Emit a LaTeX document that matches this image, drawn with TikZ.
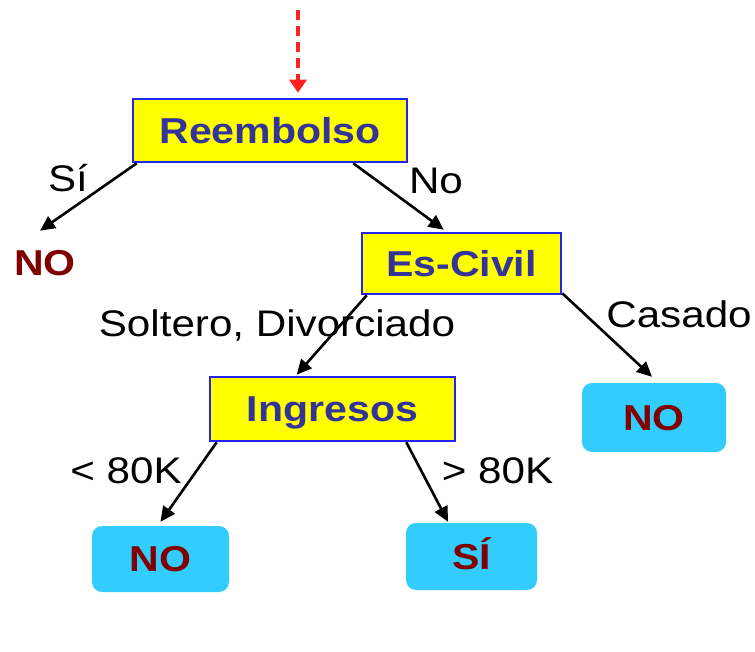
\documentclass[tikz,border=0pt]{standalone}
\usepackage{fontspec}
\setmainfont{Liberation Sans}
\usetikzlibrary{arrows.meta}
\definecolor{boxyellow}{HTML}{FFFF00}
\definecolor{boxblue}{HTML}{2424F0}
\definecolor{indigo}{HTML}{333399}
\definecolor{leafcyan}{HTML}{33CCFF}
\definecolor{darkred}{HTML}{800000}
\definecolor{arrowred}{HTML}{FF2020}
\newcommand{\hs}[1]{\scalebox{1.14}[1]{#1}}
\begin{document}
\begin{tikzpicture}[x=1pt,y=-1pt,
  decbox/.style={draw=boxblue, line width=2.6pt, fill=boxyellow, inner sep=0pt,
    text=indigo, font=\fontsize{36}{40}\selectfont\bfseries,
    text height=34pt, text depth=8.2pt},
  leafbox/.style={fill=leafcyan, rounded corners=10pt, inner sep=0pt,
    text=darkred, font=\fontsize{36}{40}\selectfont\bfseries,
    text height=34pt, text depth=8.2pt},
  leaftext/.style={inner sep=0pt, text=darkred, font=\fontsize{36}{40}\selectfont\bfseries},
  edgelabel/.style={inner sep=0pt, anchor=base, font=\fontsize{37}{40}\selectfont},
  branch/.style={line width=2.6pt, -{Triangle[length=15pt,width=14pt]}},
  entry/.style={draw=arrowred, line width=3.5pt, dash pattern=on 10pt off 6pt,
    -{Triangle[length=13pt,width=17pt]}, shorten >=5pt}
]
\useasboundingbox (0,0) rectangle (755,652);

% decision nodes
\node[decbox, minimum width=274pt, minimum height=63pt] (reem) at (270,130.5) {\hs{Reembolso}};
\node[decbox, minimum width=199pt, minimum height=61pt] (es) at (461.5,263.5) {\hs{Es-Civil}};
\node[decbox, minimum width=245pt, minimum height=64pt] (ing) at (332.5,409) {\hs{Ingresos}};

% leaves
\node[leaftext, anchor=base] (noA) at (45,276) {\hs{NO}};
\node[leafbox, minimum width=144pt, minimum height=69pt] (noR) at (654,417.5) {\hs{NO}};
\node[leafbox, minimum width=137pt, minimum height=66pt] (noL) at (160.5,559) {\hs{NO}};
\node[leafbox, minimum width=131pt, minimum height=67pt] (si) at (471.5,556.5) {\hs{SÍ}};

% entry arrow
\coordinate (start) at (298,10);
\draw[entry] (start) -- (start |- reem.north);

% edges
\draw[branch] ([xshift=5pt]reem.south west) -- ([xshift=-5pt,yshift=20pt]noA.north);
\draw[branch] ([xshift=-55pt]reem.south east) -- ([xshift=83pt,yshift=2pt]es.north west);
\draw[branch] ([xshift=6pt]es.south west) -- ([xshift=88pt,yshift=1pt]ing.north west);
\draw[branch] ([yshift=2pt]es.south east) -- ([xshift=-2pt,yshift=6pt]noR.north);
\draw[branch] ([xshift=8pt]ing.south west) -- ([yshift=4pt]noL.north);
\draw[branch] ([xshift=-50pt]ing.south east) -- ([xshift=-23.5pt,yshift=1pt]si.north);

% edge labels
\node[edgelabel] (lsi) at (68,192) {\hs{Sí}};
\node[edgelabel] (lno) at (436,194) {\hs{No}};
\node[edgelabel] (lsd) at (277,337) {\hs{Soltero, Divorciado}};
\node[edgelabel] (lcas) at (679,327) {\hs{Casado}};
\node[edgelabel] (llt) at (126,483) {\hs{< 80K}};
\node[edgelabel] (lgt) at (497.5,483) {\hs{> 80K}};
\end{tikzpicture}
\end{document}
